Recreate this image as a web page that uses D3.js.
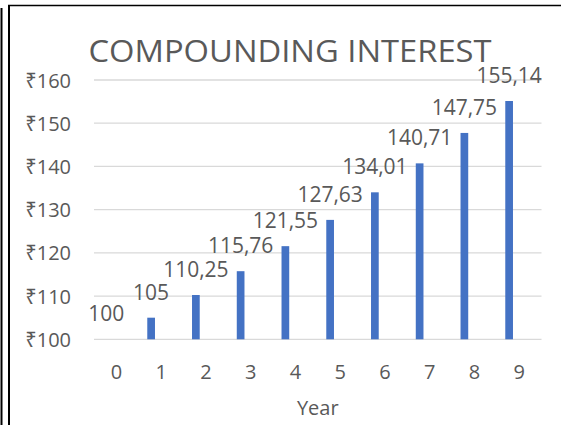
<!DOCTYPE html>
<html>
<head>
<meta charset="utf-8">
<script src="https://cdn.jsdelivr.net/npm/d3@7"></script>
<style>
  html, body { margin: 0; padding: 0; background: #fff; }
  svg { display: block; }
  text { font-family: "Open Sans", "Noto Sans", sans-serif; fill: #595959; }
</style>
</head>
<body>
<svg id="chart" width="561" height="425"></svg>
<script>
const years = [0, 1, 2, 3, 4, 5, 6, 7, 8, 9];
const amounts = [100, 105, 110.25, 115.76, 121.55, 127.63, 134.01, 140.71, 147.75, 155.14];
const yTicks = [100, 110, 120, 130, 140, 150, 160];
const titleText = "COMPOUNDING INTEREST";
const xAxisTitle = "Year";

const svg = d3.select("#chart");
const W = 561, H = 425;
const plot = { left: 94, right: 541.5, top: 80, bottom: 339.3 };

const loc = d3.formatLocale({ decimal: ",", thousands: ".", grouping: [3], currency: ["₹", ""] });
const fmtVal = loc.format(".2~f");
const fmtTick = loc.format("$.0f");

const x = d3.scaleBand().domain(years).range([plot.left, plot.right]).paddingInner(0).paddingOuter(0);
const y = d3.scaleLinear().domain([100, 160]).range([plot.bottom, plot.top]);

// Frame lines
svg.append("line").attr("x1", 1.5).attr("x2", 1.5).attr("y1", 8).attr("y2", H).attr("stroke", "#000").attr("stroke-width", 2);
svg.append("line").attr("x1", 9).attr("x2", 9).attr("y1", 5).attr("y2", H).attr("stroke", "#000").attr("stroke-width", 2);
svg.append("line").attr("x1", 8).attr("x2", W).attr("y1", 5.5).attr("y2", 5.5).attr("stroke", "#000").attr("stroke-width", 1.6);

// Gridlines
svg.append("g").selectAll("line").data(yTicks).join("line")
  .attr("x1", plot.left).attr("x2", plot.right)
  .attr("y1", d => y(d)).attr("y2", d => y(d))
  .attr("stroke", "#D9D9D9").attr("stroke-width", 1.3);

// Y tick labels
svg.append("g").selectAll("text").data(yTicks).join("text")
  .attr("x", 71).attr("y", d => y(d))
  .attr("text-anchor", "end").attr("dominant-baseline", "central")
  .attr("font-size", 20)
  .text(d => fmtTick(d));

// X tick labels
svg.append("g").selectAll("text").data(years).join("text")
  .attr("x", d => x(d) + x.bandwidth() / 2).attr("y", 379)
  .attr("text-anchor", "middle").attr("font-size", 20)
  .text(d => d);

const barW = 7.7;
const barOffset = -10; // bar center offset from band center
const barCenter = i => x(years[i]) + x.bandwidth() / 2 + barOffset;

// Bars
svg.append("g").selectAll("rect").data(amounts).join("rect")
  .attr("x", (d, i) => barCenter(i) - barW / 2)
  .attr("y", d => y(d))
  .attr("width", barW)
  .attr("height", d => y(100) - y(d))
  .attr("fill", "#4472C4");

// Data labels
svg.append("g").selectAll("text").data(amounts).join("text")
  .attr("x", (d, i) => barCenter(i)).attr("y", d => y(d) - 18)
  .attr("text-anchor", "middle").attr("font-size", 21)
  .text(d => fmtVal(d));

// Title
svg.append("text").attr("x", 290).attr("y", 61.5)
  .attr("text-anchor", "middle").attr("font-size", 30.5)
  .attr("textLength", 403).attr("lengthAdjust", "spacingAndGlyphs")
  .text(titleText);

// Axis title
svg.append("text").attr("x", (plot.left + plot.right) / 2).attr("y", 415)
  .attr("text-anchor", "middle").attr("font-size", 20)
  .text(xAxisTitle);
</script>
</body>
</html>
